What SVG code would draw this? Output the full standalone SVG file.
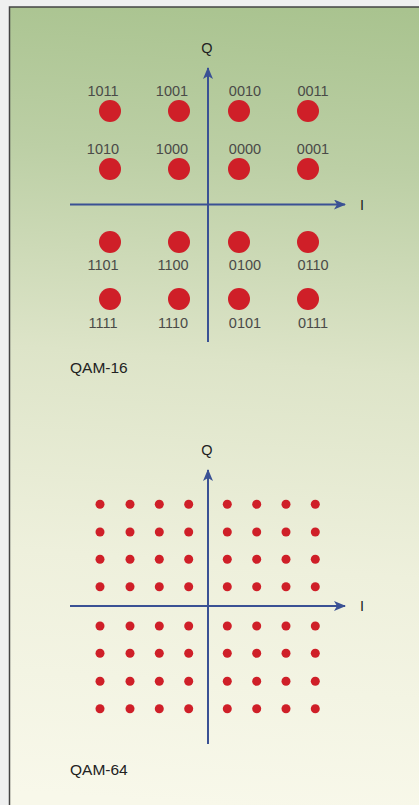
<svg xmlns="http://www.w3.org/2000/svg" width="419" height="805" viewBox="0 0 419 805">
<defs>
<linearGradient id="bg" gradientUnits="userSpaceOnUse" x1="260" y1="0" x2="200" y2="805">
<stop offset="0" stop-color="#a9c38f"/>
<stop offset="0.2" stop-color="#bccfa5"/>
<stop offset="0.45" stop-color="#dde4c8"/>
<stop offset="0.7" stop-color="#eef0dc"/>
<stop offset="1" stop-color="#f8f8ea"/>
</linearGradient>
<marker id="arr" viewBox="0 0 12 10" refX="11" refY="5" markerWidth="12" markerHeight="10" markerUnits="userSpaceOnUse" orient="auto">
<path d="M0,0 L12,5 L0,10 L3,5 Z" fill="#3a5194"/>
</marker>
<style>
.ax{stroke:#3a5194;stroke-width:2;fill:none}
.big{fill:#cf1f28}
.sm{fill:#cf1f28}
.lbl{font-family:"Liberation Sans",Arial,sans-serif;font-size:14.5px;fill:#4a4a48;text-anchor:middle}
.axl{font-family:"Liberation Sans",Arial,sans-serif;font-size:14.5px;fill:#222;text-anchor:middle}
.ttl{font-family:"Liberation Sans",Arial,sans-serif;font-size:15.5px;fill:#222}
</style>
</defs>
<rect x="0" y="0" width="419" height="805" fill="#eff0f0"/>
<rect x="10" y="7" width="409" height="798" fill="url(#bg)"/>
<path d="M9.5,805 V7 H419" stroke="#444" stroke-width="1.5" fill="none"/>

<g id="connectors">
<line class="ax" x1="208" y1="342" x2="208" y2="68" marker-end="url(#arr)"/>
<line class="ax" x1="70" y1="204.5" x2="345" y2="204.5" marker-end="url(#arr)"/>
<line class="ax" x1="208" y1="744" x2="208" y2="470" marker-end="url(#arr)"/>
<line class="ax" x1="70" y1="606" x2="345" y2="606" marker-end="url(#arr)"/>
</g>

<g id="qam16-axis-labels">
<text class="axl" x="207" y="53">Q</text>
<text class="axl" x="362" y="209.5">I</text>
</g>

<g id="qam16-points">
<circle class="big" cx="110" cy="111" r="11"/>
<circle class="big" cx="179" cy="111" r="11"/>
<circle class="big" cx="239" cy="111" r="11"/>
<circle class="big" cx="308" cy="111" r="11"/>
<circle class="big" cx="110" cy="169" r="11"/>
<circle class="big" cx="179" cy="169" r="11"/>
<circle class="big" cx="239" cy="169" r="11"/>
<circle class="big" cx="308" cy="169" r="11"/>
<circle class="big" cx="110" cy="242" r="11"/>
<circle class="big" cx="179" cy="242" r="11"/>
<circle class="big" cx="239" cy="242" r="11"/>
<circle class="big" cx="308" cy="242" r="11"/>
<circle class="big" cx="110" cy="299" r="11"/>
<circle class="big" cx="179" cy="299" r="11"/>
<circle class="big" cx="239" cy="299" r="11"/>
<circle class="big" cx="308" cy="299" r="11"/>
</g>

<g id="qam16-labels">
<text class="lbl" x="103" y="96">1011</text>
<text class="lbl" x="172" y="96">1001</text>
<text class="lbl" x="245" y="96">0010</text>
<text class="lbl" x="313" y="96">0011</text>
<text class="lbl" x="103" y="154">1010</text>
<text class="lbl" x="172" y="154">1000</text>
<text class="lbl" x="245" y="154">0000</text>
<text class="lbl" x="313" y="154">0001</text>
<text class="lbl" x="103" y="270">1101</text>
<text class="lbl" x="173" y="270">1100</text>
<text class="lbl" x="245" y="270">0100</text>
<text class="lbl" x="313" y="270">0110</text>
<text class="lbl" x="103" y="328">1111</text>
<text class="lbl" x="173" y="328">1110</text>
<text class="lbl" x="245" y="328">0101</text>
<text class="lbl" x="313" y="328">0111</text>
</g>

<g id="qam16-title">
<text class="ttl" x="70" y="373">QAM-16</text>
</g>

<g id="qam64-axis-labels">
<text class="axl" x="207" y="455">Q</text>
<text class="axl" x="362" y="611">I</text>
</g>

<g id="qam64-points">
<g transform="translate(0,504.3)">
<circle class="sm" cx="100" r="4.5"/><circle class="sm" cx="130" r="4.5"/><circle class="sm" cx="159.3" r="4.5"/><circle class="sm" cx="188.7" r="4.5"/><circle class="sm" cx="227.3" r="4.5"/><circle class="sm" cx="256.7" r="4.5"/><circle class="sm" cx="286" r="4.5"/><circle class="sm" cx="315.3" r="4.5"/>
</g>
<g transform="translate(0,532)">
<circle class="sm" cx="100" r="4.5"/><circle class="sm" cx="130" r="4.5"/><circle class="sm" cx="159.3" r="4.5"/><circle class="sm" cx="188.7" r="4.5"/><circle class="sm" cx="227.3" r="4.5"/><circle class="sm" cx="256.7" r="4.5"/><circle class="sm" cx="286" r="4.5"/><circle class="sm" cx="315.3" r="4.5"/>
</g>
<g transform="translate(0,559.3)">
<circle class="sm" cx="100" r="4.5"/><circle class="sm" cx="130" r="4.5"/><circle class="sm" cx="159.3" r="4.5"/><circle class="sm" cx="188.7" r="4.5"/><circle class="sm" cx="227.3" r="4.5"/><circle class="sm" cx="256.7" r="4.5"/><circle class="sm" cx="286" r="4.5"/><circle class="sm" cx="315.3" r="4.5"/>
</g>
<g transform="translate(0,586.7)">
<circle class="sm" cx="100" r="4.5"/><circle class="sm" cx="130" r="4.5"/><circle class="sm" cx="159.3" r="4.5"/><circle class="sm" cx="188.7" r="4.5"/><circle class="sm" cx="227.3" r="4.5"/><circle class="sm" cx="256.7" r="4.5"/><circle class="sm" cx="286" r="4.5"/><circle class="sm" cx="315.3" r="4.5"/>
</g>
<g transform="translate(0,626)">
<circle class="sm" cx="100" r="4.5"/><circle class="sm" cx="130" r="4.5"/><circle class="sm" cx="159.3" r="4.5"/><circle class="sm" cx="188.7" r="4.5"/><circle class="sm" cx="227.3" r="4.5"/><circle class="sm" cx="256.7" r="4.5"/><circle class="sm" cx="286" r="4.5"/><circle class="sm" cx="315.3" r="4.5"/>
</g>
<g transform="translate(0,653.3)">
<circle class="sm" cx="100" r="4.5"/><circle class="sm" cx="130" r="4.5"/><circle class="sm" cx="159.3" r="4.5"/><circle class="sm" cx="188.7" r="4.5"/><circle class="sm" cx="227.3" r="4.5"/><circle class="sm" cx="256.7" r="4.5"/><circle class="sm" cx="286" r="4.5"/><circle class="sm" cx="315.3" r="4.5"/>
</g>
<g transform="translate(0,681.3)">
<circle class="sm" cx="100" r="4.5"/><circle class="sm" cx="130" r="4.5"/><circle class="sm" cx="159.3" r="4.5"/><circle class="sm" cx="188.7" r="4.5"/><circle class="sm" cx="227.3" r="4.5"/><circle class="sm" cx="256.7" r="4.5"/><circle class="sm" cx="286" r="4.5"/><circle class="sm" cx="315.3" r="4.5"/>
</g>
<g transform="translate(0,708.7)">
<circle class="sm" cx="100" r="4.5"/><circle class="sm" cx="130" r="4.5"/><circle class="sm" cx="159.3" r="4.5"/><circle class="sm" cx="188.7" r="4.5"/><circle class="sm" cx="227.3" r="4.5"/><circle class="sm" cx="256.7" r="4.5"/><circle class="sm" cx="286" r="4.5"/><circle class="sm" cx="315.3" r="4.5"/>
</g>
</g>

<g id="qam64-title">
<text class="ttl" x="70" y="775">QAM-64</text>
</g>
</svg>
